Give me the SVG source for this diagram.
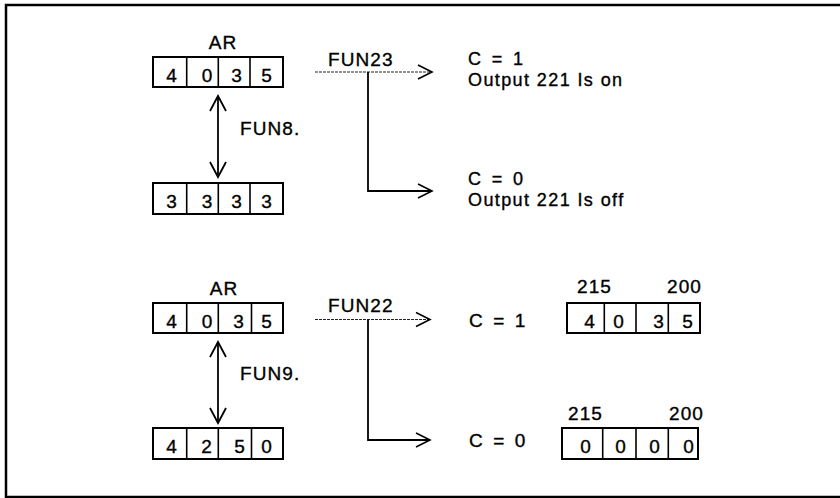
<svg xmlns="http://www.w3.org/2000/svg" width="840" height="498" viewBox="0 0 840 498">
<style>
.t{font-family:"Liberation Sans",Arial,sans-serif;font-size:19px;fill:#000;stroke:#000;stroke-width:0.35;letter-spacing:1.1px}
.s{font-size:18px;letter-spacing:1.4px}
.c{word-spacing:3px}
.m{text-anchor:middle}
.e{text-anchor:end}
.box{fill:#fff;stroke:#000;stroke-width:2}
.div{stroke:#000;stroke-width:1.6}
.ln{fill:none;stroke:#000;stroke-width:1.8}
.thin{fill:none;stroke:#222;stroke-width:1.2;stroke-dasharray:3 1}
.frame{fill:none;stroke:#000;stroke-width:2.5}
</style>
<defs>
<marker id="ah" markerUnits="userSpaceOnUse" markerWidth="20" markerHeight="20" viewBox="-16 -10 18 20" refX="0" refY="0" orient="auto-start-reverse">
<path d="M-14 -7 L0 0 L-14 7" fill="none" stroke="#000" stroke-width="1.6"/>
</marker>
<marker id="av" markerUnits="userSpaceOnUse" markerWidth="20" markerHeight="20" viewBox="-17 -10 19 20" refX="0" refY="0" orient="auto-start-reverse">
<path d="M-15 -8 L0 0 L-15 8" fill="none" stroke="#000" stroke-width="1.8"/>
</marker>
</defs>
<path class="frame" d="M840 5 H6 V497 H840"/>

<g id="top-ar">
<text class="t m" x="223" y="49">AR</text>
<rect class="box" x="153" y="57" width="130" height="30"/>
<path class="div" d="M186.7 57V87M218.3 57V87M250 57V87"/>
<text class="t m" x="172" y="82">4</text>
<text class="t m" x="207.5" y="82">0</text>
<text class="t m" x="237" y="82">3</text>
<text class="t m" x="267" y="82">5</text>
</g>
<g id="top-result">
<rect class="box" x="153" y="183" width="130" height="31"/>
<path class="div" d="M186.7 183V214M218.3 183V214M250 183V214"/>
<text class="t m" x="172" y="208">3</text>
<text class="t m" x="207.5" y="208">3</text>
<text class="t m" x="237" y="208">3</text>
<text class="t m" x="267" y="208">3</text>
</g>
<g id="top-labels">
<text class="t" x="240" y="135">FUN8.</text>
<text class="t" x="328" y="66">FUN23</text>
</g>
<g id="top-outcome-1">
<text class="t s c" x="468" y="65">C = 1</text>
<text class="t s" x="468" y="86">Output 221 Is on</text>
</g>
<g id="top-outcome-0">
<text class="t s c" x="468" y="185">C = 0</text>
<text class="t s" x="468" y="206">Output 221 Is off</text>
</g>

<g id="bot-ar">
<text class="t m" x="224" y="295">AR</text>
<rect class="box" x="153" y="303" width="130" height="30"/>
<path class="div" d="M186.7 303V333M218.3 303V333M251.5 303V333"/>
<text class="t m" x="172" y="328">4</text>
<text class="t m" x="207.5" y="328">0</text>
<text class="t m" x="239" y="328">3</text>
<text class="t m" x="267" y="328">5</text>
</g>
<g id="bot-result">
<rect class="box" x="153" y="428" width="130" height="31"/>
<path class="div" d="M186.7 428V459M218.3 428V459M251.5 428V459"/>
<text class="t m" x="172" y="453">4</text>
<text class="t m" x="207" y="453">2</text>
<text class="t m" x="240" y="453">5</text>
<text class="t m" x="267" y="453">0</text>
</g>
<g id="bot-labels">
<text class="t" x="240" y="380">FUN9.</text>
<text class="t" x="328" y="312">FUN22</text>
</g>
<g id="bot-outcome-1">
<text class="t c" x="469" y="327">C = 1</text>
<text class="t" x="577" y="293">215</text>
<text class="t e" x="702" y="293">200</text>
<rect class="box" x="567" y="303" width="133" height="30"/>
<path class="div" d="M604.3 303V333M636 303V333M668.3 303V333"/>
<text class="t m" x="590" y="328">4</text>
<text class="t m" x="619" y="328">0</text>
<text class="t m" x="659" y="328">3</text>
<text class="t m" x="688" y="328">5</text>
</g>
<g id="bot-outcome-0">
<text class="t c" x="469" y="447">C = 0</text>
<text class="t" x="568" y="420">215</text>
<text class="t e" x="704" y="420">200</text>
<rect class="box" x="562" y="428" width="136" height="31"/>
<path class="div" d="M602.7 428V459M636 428V459M668.3 428V459"/>
<text class="t m" x="586" y="453">0</text>
<text class="t m" x="621" y="453">0</text>
<text class="t m" x="655" y="453">0</text>
<text class="t m" x="689" y="453">0</text>
</g>

<g id="connectors">
<path class="ln" d="M218 96V177" marker-start="url(#av)" marker-end="url(#av)"/>
<path class="ln" d="M218 342V423" marker-start="url(#av)" marker-end="url(#av)"/>
<path class="thin" d="M315 72H432" marker-end="url(#ah)"/>
<path class="ln" d="M368 72V191H432" marker-end="url(#ah)"/>
<path class="thin" d="M315 319.5H430" marker-end="url(#ah)"/>
<path class="ln" d="M368 319.5V440H430" marker-end="url(#ah)"/>
</g>
</svg>
